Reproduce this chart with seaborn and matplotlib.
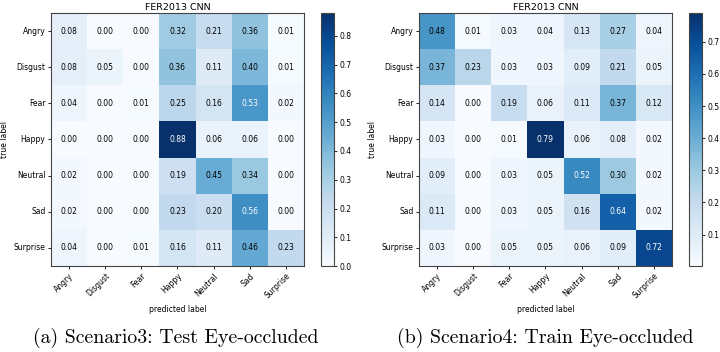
import numpy as np
import pandas as pd
import matplotlib
matplotlib.use("Agg")
import matplotlib.pyplot as plt
import seaborn as sns

# %% Datos de las dos matrices de confusion

emociones = ['Angry', 'Disgust', 'Fear', 'Happy', 'Neutral', 'Sad', 'Surprise']

test_ocluido = [
    [0.08, 0.00, 0.00, 0.32, 0.21, 0.36, 0.01],
    [0.08, 0.05, 0.00, 0.36, 0.11, 0.40, 0.01],
    [0.04, 0.00, 0.01, 0.25, 0.16, 0.53, 0.02],
    [0.00, 0.00, 0.00, 0.88, 0.06, 0.06, 0.00],
    [0.02, 0.00, 0.00, 0.19, 0.45, 0.34, 0.00],
    [0.02, 0.00, 0.00, 0.23, 0.20, 0.56, 0.00],
    [0.04, 0.00, 0.01, 0.16, 0.11, 0.46, 0.23],
]

train_ocluido = [
    [0.48, 0.01, 0.03, 0.04, 0.13, 0.27, 0.04],
    [0.37, 0.23, 0.03, 0.03, 0.09, 0.21, 0.05],
    [0.14, 0.00, 0.19, 0.06, 0.11, 0.37, 0.12],
    [0.03, 0.00, 0.01, 0.79, 0.06, 0.08, 0.02],
    [0.09, 0.00, 0.03, 0.05, 0.52, 0.30, 0.02],
    [0.11, 0.00, 0.03, 0.05, 0.16, 0.64, 0.02],
    [0.03, 0.00, 0.05, 0.05, 0.06, 0.09, 0.72],
]

titulo = 'FER2013 CNN'
captions = ['(a) Scenario3: Test Eye-occluded', '(b) Scenario4: Train Eye-occluded']
rangos = [(0.0, 0.88), (0.002, 0.79)]

# %% Grafico

fig = plt.figure(figsize=(7.2, 3.52), dpi=100)

# (x heatmap, x colorbar, x centro del caption) en fraccion de figura
posiciones = [(0.0708, 0.4458, 0.2444), (0.5819, 0.9569, 0.757)]
matrices = [test_ocluido, train_ocluido]
fs = 5.5

for matriz, (x_hm, x_cb, x_cap), (vmin, vmax), cap in zip(matrices, posiciones, rangos, captions):
    df = pd.DataFrame(matriz, index=emociones, columns=emociones)
    ax = fig.add_axes([x_hm, 0.2443, 0.3514, 0.7188])
    cax = fig.add_axes([x_cb, 0.2443, 0.018, 0.7188])
    sns.heatmap(df, ax=ax, cbar_ax=cax, cmap='Blues', vmin=vmin, vmax=vmax,
                annot=True, fmt='.2f', annot_kws={'size': fs})

    # Texto blanco en las celdas oscuras
    for t in ax.texts:
        t.set_color('white' if float(t.get_text()) > 0.5 else 'black')

    for s in ax.spines.values():
        s.set_visible(True)
        s.set_color('#444444')
        s.set_linewidth(0.8)

    ax.set_title(titulo, fontsize=6.8, pad=2)
    ax.set_xlabel('predicted label', fontsize=fs, labelpad=3)
    ax.set_ylabel('true label', fontsize=fs, labelpad=3)
    ax.tick_params(axis='both', labelsize=fs, length=2.5, width=0.6, pad=1.5)
    plt.setp(ax.get_xticklabels(), rotation=45, ha='right', rotation_mode='anchor')
    plt.setp(ax.get_yticklabels(), rotation=0)

    cax.tick_params(labelsize=fs, length=2.5, width=0.6, pad=1.5)
    cax.yaxis.set_major_formatter(plt.FormatStrFormatter('%.1f'))
    cb = ax.collections[0].colorbar
    cb.outline.set_visible(True)
    cb.outline.set_edgecolor('#444444')
    cb.outline.set_linewidth(0.8)

    fig.text(x_cap, 0.012, cap, ha='center', va='bottom',
             fontsize=14.3, family=['cmr10', 'DejaVu Serif'])

fig.savefig('out.png', dpi=100)
